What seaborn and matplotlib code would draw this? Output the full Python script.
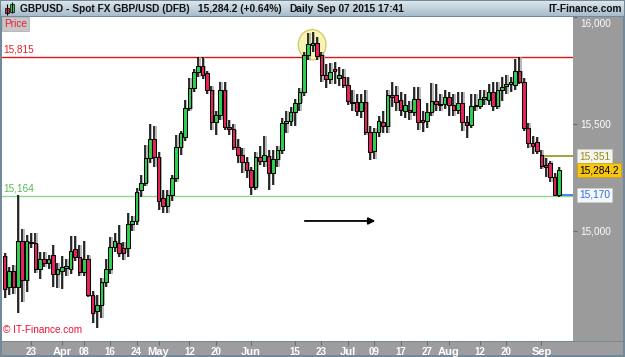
import numpy as np
import pandas as pd
import matplotlib
matplotlib.use("Agg")
import matplotlib.pyplot as plt
import matplotlib.transforms as mtransforms
from matplotlib.patches import Rectangle, Ellipse
import seaborn as sns

sns.set_style("white")
plt.rcParams["font.family"] = ["Liberation Sans", "DejaVu Sans"]

# ---------------- data ----------------
dates = pd.bdate_range("2015-03-13", "2015-09-07")

open_ = [14883, 14736, 14814, 14736, 14955, 14769,
         14943, 14943, 14821, 14868, 14850, 14889, 14799, 14812, 14825, 14821,
         14914, 14877, 14810, 14868, 14700, 14624, 14655, 14763, 14821, 14924,
         14943, 14920, 14920, 15033, 15048, 15192, 15226, 15341, 15430, 15348,
         15153, 15117, 15169, 15247, 15392, 15442, 15575, 15668, 15746, 15773,
         15739, 15660, 15512, 15543, 15660, 15486, 15476, 15395, 15356, 15325,
         15286, 15208, 15345, 15329, 15351, 15270, 15336, 15379, 15507, 15515,
         15559, 15601, 15650, 15822, 15870, 15880, 15824, 15731, 15711, 15760,
         15716, 15723, 15684, 15605, 15606, 15563, 15606, 15465, 15375, 15465,
         15510, 15490, 15637, 15637, 15614, 15562, 15567, 15559, 15618, 15520,
         15517, 15559, 15610, 15596, 15595, 15626, 15590, 15567, 15600, 15512,
         15497, 15585, 15585, 15617, 15614, 15653, 15583, 15661, 15680, 15690,
         15684, 15751, 15699, 15480, 15412, 15418, 15356, 15310, 15317, 15254, 15169]

high = [14895, 14831, 14840, 15169, 15008, 14981,
        14990, 14989, 14904, 14900, 14890, 14934, 14850, 14884, 14870, 14977,
        14977, 14934, 14955, 14890, 14720, 14700, 14780, 14870, 14972, 14990,
        15028, 14950, 15084, 15070, 15200, 15262, 15403, 15501, 15492, 15370,
        15190, 15190, 15260, 15450, 15470, 15614, 15717, 15760, 15815, 15815,
        15750, 15680, 15560, 15699, 15699, 15520, 15500, 15430, 15390, 15345,
        15300, 15371, 15400, 15445, 15380, 15380, 15400, 15530, 15560, 15580,
        15620, 15670, 15840, 15927, 15930, 15910, 15840, 15780, 15787, 15790,
        15770, 15760, 15720, 15660, 15640, 15640, 15660, 15490, 15480, 15540,
        15560, 15660, 15700, 15680, 15650, 15640, 15610, 15675, 15675, 15560,
        15600, 15693, 15690, 15640, 15660, 15650, 15640, 15650, 15650, 15540,
        15640, 15640, 15660, 15660, 15690, 15700, 15700, 15720, 15730, 15720,
        15805, 15815, 15715, 15506, 15445, 15440, 15380, 15340, 15330, 15270, 15300]

low = [14686, 14700, 14705, 14615, 14669, 14716,
       14920, 14805, 14774, 14830, 14820, 14739, 14735, 14730, 14790, 14800,
       14860, 14790, 14790, 14690, 14568, 14544, 14592, 14740, 14800, 14900,
       14880, 14862, 14880, 15000, 15030, 15160, 15210, 15320, 15301, 15098,
       15083, 15083, 15140, 15230, 15356, 15420, 15560, 15650, 15720, 15710,
       15640, 15473, 15450, 15520, 15473, 15450, 15380, 15320, 15270, 15250,
       15169, 15190, 15310, 15300, 15192, 15215, 15300, 15360, 15460, 15490,
       15490, 15560, 15630, 15800, 15840, 15800, 15700, 15670, 15690, 15690,
       15680, 15670, 15590, 15560, 15540, 15530, 15450, 15333, 15335, 15440,
       15460, 15460, 15580, 15560, 15540, 15530, 15520, 15540, 15473, 15465,
       15480, 15540, 15560, 15560, 15570, 15540, 15540, 15550, 15470, 15436,
       15480, 15560, 15570, 15590, 15590, 15560, 15570, 15610, 15640, 15650,
       15660, 15690, 15470, 15390, 15360, 15360, 15290, 15255, 15230, 15164, 15160]

close = [14727, 14814, 14736, 14955, 14769, 14955,
         14950, 14821, 14868, 14850, 14868, 14799, 14821, 14830, 14836, 14906,
         14877, 14810, 14868, 14700, 14615, 14655, 14763, 14821, 14924, 14955,
         14899, 14899, 15033, 15048, 15184, 15226, 15341, 15430, 15348, 15142,
         15117, 15169, 15248, 15392, 15458, 15575, 15668, 15746, 15773, 15731,
         15660, 15512, 15543, 15660, 15489, 15476, 15395, 15356, 15325, 15286,
         15208, 15345, 15329, 15356, 15270, 15336, 15379, 15507, 15515, 15559,
         15601, 15653, 15822, 15876, 15880, 15820, 15731, 15711, 15746, 15750,
         15731, 15684, 15610, 15597, 15563, 15606, 15465, 15371, 15465, 15517,
         15490, 15637, 15628, 15606, 15567, 15590, 15559, 15618, 15512, 15512,
         15559, 15610, 15596, 15590, 15626, 15588, 15567, 15600, 15512, 15497,
         15585, 15590, 15617, 15628, 15653, 15583, 15661, 15676, 15690, 15700,
         15751, 15699, 15481, 15412, 15398, 15376, 15305, 15300, 15254, 15169, 15284.2]

tick_dates = ["2015-03-23", "2015-04-01", "2015-04-08", "2015-04-16", "2015-04-24",
              "2015-05-01", "2015-05-12", "2015-05-20", "2015-06-01", "2015-06-15",
              "2015-06-23", "2015-07-01", "2015-07-09", "2015-07-17", "2015-07-27",
              "2015-08-03", "2015-08-12", "2015-08-20", "2015-09-01"]
tick_labels = ["23", "Apr", "08", "16", "24", "May", "12", "20", "Jun", "15",
               "23", "Jul", "09", "17", "27", "Aug", "12", "20", "Sep"]
month_names = {"Apr", "May", "Jun", "Jul", "Aug", "Sep"}

y_ticks = [15000, 15500, 16000]
y_tick_labels = ["15,000", "15,500", "16,000"]

level_resist = 15815
level_support = 15164
level_prev = 15351
level_low = 15170
last_price = 15284.2
prev_start_date = "2015-09-01"

df = pd.DataFrame({"date": dates, "open": open_, "high": high,
                   "low": low, "close": close})
df["x"] = np.arange(len(df))
df["up"] = df["close"] >= df["open"]

# ---------------- figure layout ----------------
W, H = 625, 357
fig = plt.figure(figsize=(W / 100, H / 100), dpi=100)
fig.patch.set_facecolor("#72899a")


def box(x0, y0, x1, y1):
    return [x0 / W, 1 - y1 / H, (x1 - x0) / W, (y1 - y0) / H]


def fig_rect(x0, y0, x1, y1, color):
    b = box(x0, y0, x1, y1)
    fig.patches.append(Rectangle((b[0], b[1]), b[2], b[3], transform=fig.transFigure,
                                 facecolor=color, edgecolor="none", zorder=-1))


# right price panel and bottom date bar
fig_rect(573, 17, 623, 341, "#9b9b9b")
fig_rect(2, 342, 623, 355, "#9d9d9d")

# header bar with gradient
hax = fig.add_axes(box(1, 1, 624, 16))
grad = np.linspace(0, 1, 30).reshape(-1, 1)
top_c = np.array(matplotlib.colors.to_rgb("#dbe5ec"))
bot_c = np.array(matplotlib.colors.to_rgb("#a7bccb"))
img = top_c[None, None, :] * (1 - grad[:, :, None]) + bot_c[None, None, :] * grad[:, :, None]
hax.imshow(img, aspect="auto", extent=[1, 624, 16, 1])
hax.set_xlim(1, 624)
hax.set_ylim(16, 1)
hax.axis("off")
# small candle icon
hax.vlines([6.5, 12], [4, 2], [15, 13], color="black", lw=0.8)
hax.add_patch(Rectangle((4.5, 8), 4, 5, facecolor="#e8245a", edgecolor="black", lw=0.5))
hax.add_patch(Rectangle((10, 4), 4, 8, facecolor="#2fd14f", edgecolor="black", lw=0.5))

hdr_kw = dict(fontsize=7.3, fontweight="bold", va="center", color="#111111")
fig.text(20 / W, 1 - 8.5 / H, "GBPUSD - Spot FX GBP/USD (DFB)", **hdr_kw)
fig.text(198 / W, 1 - 8.5 / H, f"{last_price:,.1f} (+0.64%)", **hdr_kw)
fig.text(289 / W, 1 - 8.5 / H, "Daily", **hdr_kw)
fig.text(317 / W, 1 - 8.5 / H, "Sep 07 2015 17:41", **hdr_kw)
fig.text(622 / W, 1 - 8.5 / H, "IT-Finance.com", ha="right", **hdr_kw)

# ---------------- main chart ----------------
ax = fig.add_axes(box(2, 17, 573, 341))
ax.set_facecolor("white")
for s in ax.spines.values():
    s.set_visible(False)

green = "#2fd14f"
red = "#e8245a"

# level lines
ax.axhline(level_resist, color="#dd1515", lw=1.0, zorder=1)
ax.axhline(level_support, color="#8fd88f", lw=1.0, zorder=1)
x_prev = df.index[df["date"] == pd.Timestamp(prev_start_date)][0]
ax.hlines(level_prev, x_prev, 200, color="#a39a22", lw=1.3, zorder=1)
ax.hlines(level_low, df["x"].iloc[-1], 200, color="#3a7de0", lw=1.3, zorder=1)

# highlight circle around the top
i_top = int(np.argmax(df["high"].values))
ax.add_patch(Ellipse((df["x"].iloc[i_top] - 0.1, df["high"].iloc[i_top] - 58), 6.3, 142,
                     facecolor="#f8f4b4", edgecolor="#d6cc6c", lw=1.0, zorder=1.5))

# candles: shadow, wicks, bodies
body_bottom = np.minimum(df["open"], df["close"])
body_h = np.maximum(np.abs(df["close"] - df["open"]), 4)
ax.vlines(df["x"] + 0.32, df["low"], df["high"], color="#a6a6a6", lw=1.1, zorder=2)
ax.bar(df["x"] + 0.32, body_h, bottom=body_bottom - 2, width=0.82,
       color="#b0b0b0", edgecolor="none", zorder=2.5)
ax.vlines(df["x"], df["low"], df["high"], color="black", lw=1.15, zorder=3)
ax.bar(df["x"], body_h, bottom=body_bottom, width=0.82,
       color=np.where(df["up"], green, red), edgecolor="black", lw=0.75, zorder=4)

# arrow annotation
ax.annotate("", xy=(84.9, 15047), xytext=(67.6, 15047),
            arrowprops=dict(arrowstyle="-|>", color="black", lw=1.3, mutation_scale=10),
            zorder=5)

ax.set_xlim(-0.59, 129.18)
ax.set_ylim(14485, 16002)

# x ticks (date bar)
tick_pos = [df.index[df["date"] == pd.Timestamp(d)][0] for d in tick_dates]
ax.set_xticks(tick_pos)
ax.set_xticklabels(tick_labels)
ax.tick_params(axis="x", length=3, width=0.8, color="#6a6a6a", labelcolor="white",
               pad=1.2, labelsize=7, bottom=True)
for lab in ax.get_xticklabels():
    lab.set_fontweight("bold")
    if lab.get_text() in month_names:
        lab.set_fontsize(8)

# y ticks (right panel)
ax.yaxis.tick_right()
ax.set_yticks(y_ticks)
ax.set_yticklabels([""] * len(y_ticks))
ax.tick_params(axis="y", length=3, width=0.8, color="#6a6a6a", right=True)
blend = mtransforms.blended_transform_factory(ax.transAxes, ax.transData)
for v, t in zip(y_ticks, y_tick_labels):
    ax.text(1 + 7 / 571, v - (6 if v == max(y_ticks) else 0), t, transform=blend,
            va="top" if v == max(y_ticks) else "center", ha="left",
            color="white", fontsize=7.2, clip_on=False)

# boxed price labels in right panel
lab_x = 1 + 6 / 571
ax.text(lab_x, level_prev, f"{level_prev:,}", transform=blend, va="center", ha="left",
        fontsize=7.3, color="#9a8c18", clip_on=False,
        bbox=dict(boxstyle="square,pad=0.2", facecolor="#f4f4ee", edgecolor="#d0d0d0", lw=0.5))
ax.text(lab_x, last_price, f"{last_price:,.1f}", transform=blend, va="center", ha="left",
        fontsize=7.3, color="black", clip_on=False,
        bbox=dict(boxstyle="square,pad=0.2", facecolor="#f7c514", edgecolor="#d0a000", lw=0.5))
ax.text(lab_x, level_low, f"{level_low:,}", transform=blend, va="center", ha="left",
        fontsize=7.3, color="#2d6fe0", clip_on=False,
        bbox=dict(boxstyle="square,pad=0.2", facecolor="#f4f6fa", edgecolor="#d0d0d0", lw=0.5))

# level labels at left
ax.annotate(f"{level_resist:,}", xy=(0.003, level_resist), xycoords=blend,
            xytext=(0, 1.5), textcoords="offset points", va="bottom", ha="left",
            fontsize=7.2, color="#ee1c2c")
ax.annotate(f"{level_support:,}", xy=(0.003, level_support), xycoords=blend,
            xytext=(0, 1.5), textcoords="offset points", va="bottom", ha="left",
            fontsize=7.2, color="#55bb55")

# "Price" tag and copyright
ax.text(0.004, 0.995, "Price", transform=ax.transAxes, va="top", ha="left",
        fontsize=7.3, color="#ee1c3c",
        bbox=dict(boxstyle="square,pad=0.2", facecolor="#c6c6c6", edgecolor="#a8a8a8", lw=0.5))
ax.text(0.002, 0.018, "© IT-Finance.com", transform=ax.transAxes, va="bottom", ha="left",
        fontsize=7.2, color="#ee1133")

fig.savefig("out.png", dpi=100, facecolor=fig.get_facecolor())
